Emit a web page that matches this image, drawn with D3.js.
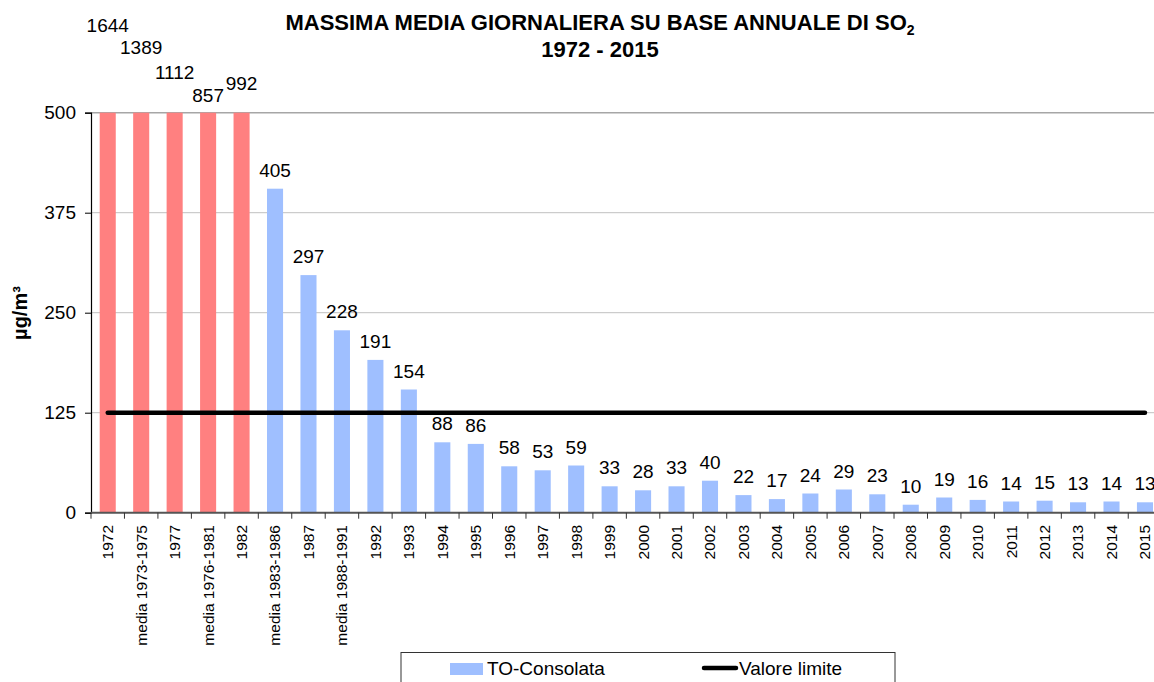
<!DOCTYPE html>
<html>
<head>
<meta charset="utf-8">
<script src="https://cdn.jsdelivr.net/npm/d3@7"></script>
<style>
  body { margin: 0; background: #fff; }
  text { font-family: "Liberation Sans", Arial, sans-serif; fill: #000; }
</style>
</head>
<body>
<svg id="chart"></svg>
<script>
// data
const categories = [
    "1972", "media 1973-1975", "1977", "media 1976-1981", "1982",
    "media 1983-1986", "1987", "media 1988-1991",
    "1992", "1993", "1994", "1995", "1996", "1997", "1998", "1999",
    "2000", "2001", "2002", "2003", "2004", "2005", "2006", "2007",
    "2008", "2009", "2010", "2011", "2012", "2013", "2014", "2015"
]
const values = [
    1644, 1389, 1112, 857, 992,
    405, 297, 228,
    191, 154, 88, 86, 58, 53, 59, 33,
    28, 33, 40, 22, 17, 24, 29, 23,
    10, 19, 16, 14, 15, 13, 14, 13
]
const valoreLimite = 125
const yTicks = [0, 125, 250, 375, 500]
const seriesNames = ["TO-Consolata", "Valore limite"]

const width = 1154
const height = 682

const svg = d3.select("#chart")
    .attr("width", width)
    .attr("height", height)
    .attr("viewBox", [0, 0, width, height])

const data = categories.map((c, i) => ({ cat: c, value: values[i] }))

const x = d3.scaleBand()
    .domain(categories)
    .range([91, 1161.7])
    .paddingInner(0.52)
    .paddingOuter(0.26)

const y = d3.scaleLinear()
    .domain([0, 500])
    .range([512.7, 112.7])

// values above the axis max get their labels stacked above the plot
const overflowY = d3.scaleLinear()
    .domain([857, 1644])
    .range([101.7, 31.7])

const yMax = y.domain()[1]

// grid
svg.append("g")
    .selectAll("line")
    .data(yTicks.filter(d => d > 0))
    .join("line")
    .attr("x1", 91)
    .attr("x2", x.range()[1])
    .attr("y1", d => y(d))
    .attr("y2", d => y(d))
    .attr("stroke", d => d === yMax ? "#a6a6a6" : "#c0c0c0")
    .attr("stroke-width", d => d === yMax ? 1.5 : 1)

// bars
svg.append("g")
    .selectAll("rect")
    .data(data)
    .join("rect")
    .attr("x", d => x(d.cat))
    .attr("width", x.bandwidth())
    .attr("y", d => y(Math.min(d.value, yMax)))
    .attr("height", d => y(0) - y(Math.min(d.value, yMax)))
    .attr("fill", d => d.value > yMax ? "#ff8080" : "#9fbfff")

// value labels
svg.append("g")
    .selectAll("text")
    .data(data)
    .join("text")
    .attr("x", d => x(d.cat) + x.bandwidth() / 2)
    .attr("y", d => d.value > yMax ? overflowY(d.value) : y(d.value) - 12)
    .attr("text-anchor", "middle")
    .style("font-size", "19px")
    .text(d => d.value)

// valore limite line
const cx0 = x(categories[0]) + x.bandwidth() / 2
const cx1 = x(categories[categories.length - 1]) + x.bandwidth() / 2
svg.append("line")
    .attr("x1", cx0)
    .attr("x2", cx1)
    .attr("y1", y(valoreLimite))
    .attr("y2", y(valoreLimite))
    .attr("stroke", "#000")
    .attr("stroke-width", 4.5)
    .attr("stroke-linecap", "round")

// y axis
const yAxis = svg.append("g")
    .attr("transform", "translate(91,0)")
    .call(d3.axisLeft(y).tickValues(yTicks).tickSize(6).tickPadding(9))
yAxis.select(".domain").attr("stroke", "#000").attr("stroke-width", 1.2)
yAxis.selectAll(".tick line").attr("stroke", "#000")
yAxis.selectAll(".tick text")
    .style("font-size", "19px")
    .style("font-family", "Liberation Sans, Arial, sans-serif")
    .attr("fill", "#000")

// x axis: line, ticks between categories, rotated labels
const xAxis = svg.append("g")
xAxis.append("line")
    .attr("x1", 91)
    .attr("x2", x.range()[1])
    .attr("y1", y(0))
    .attr("y2", y(0))
    .attr("stroke", "#555")
    .attr("stroke-width", 2)
xAxis.selectAll(".sep")
    .data(d3.range(categories.length + 1))
    .join("line")
    .attr("class", "sep")
    .attr("x1", i => x.range()[0] + i * x.step())
    .attr("x2", i => x.range()[0] + i * x.step())
    .attr("y1", y(0))
    .attr("y2", y(0) + 6)
    .attr("stroke", "#333")
xAxis.selectAll(".lab")
    .data(categories)
    .join("text")
    .attr("class", "lab")
    .attr("transform", d => `translate(${x(d) + x.bandwidth() / 2},525)rotate(-90)`)
    .attr("text-anchor", "end")
    .attr("dy", "0.35em")
    .style("font-size", "15.5px")
    .text(d => d)

// y axis title
svg.append("text")
    .attr("transform", "translate(20,313)rotate(-90)")
    .attr("text-anchor", "middle")
    .attr("dy", "0.35em")
    .style("font-size", "20px")
    .style("font-weight", "bold")
    .text("µg/m³")

// title
const title = svg.append("text")
    .attr("x", 600)
    .attr("y", 30)
    .attr("text-anchor", "middle")
    .style("font-size", "22px")
    .style("font-weight", "bold")
title.append("tspan").text("MASSIMA MEDIA GIORNALIERA SU BASE ANNUALE DI SO")
title.append("tspan").attr("dy", 5).style("font-size", "14px").text("2")

svg.append("text")
    .attr("x", 600)
    .attr("y", 57)
    .attr("text-anchor", "middle")
    .style("font-size", "22px")
    .style("font-weight", "bold")
    .text("1972 - 2015")

// legend
const legend = svg.append("g")
legend.append("rect")
    .attr("x", 401)
    .attr("y", 652.5)
    .attr("width", 494)
    .attr("height", 40)
    .attr("fill", "none")
    .attr("stroke", "#333")
legend.append("rect")
    .attr("x", 450)
    .attr("y", 663)
    .attr("width", 33)
    .attr("height", 12)
    .attr("fill", "#9fbfff")
legend.append("text")
    .attr("x", 487)
    .attr("y", 675)
    .style("font-size", "19px")
    .text(seriesNames[0])
legend.append("line")
    .attr("x1", 704)
    .attr("x2", 736)
    .attr("y1", 668)
    .attr("y2", 668)
    .attr("stroke", "#000")
    .attr("stroke-width", 4.5)
    .attr("stroke-linecap", "round")
legend.append("text")
    .attr("x", 739)
    .attr("y", 675)
    .style("font-size", "19px")
    .text(seriesNames[1])
</script>
</body>
</html>
